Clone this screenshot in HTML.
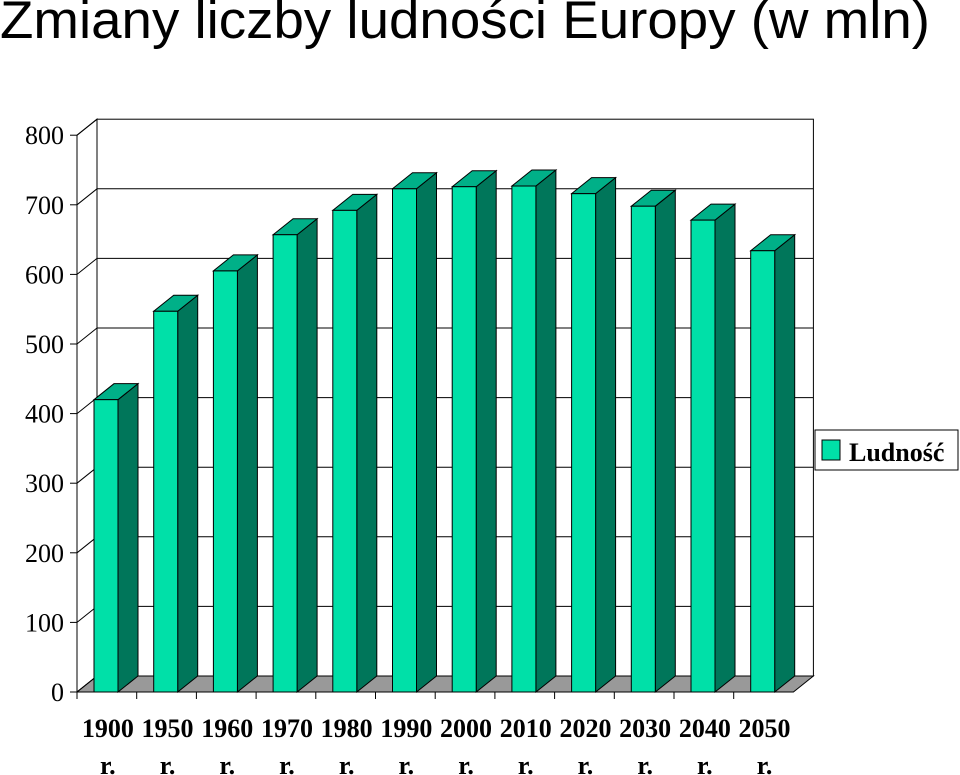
<!DOCTYPE html>
<html><head><meta charset="utf-8"><style>
body{margin:0;background:#fff;width:960px;height:775px;overflow:hidden}
svg{display:block}
</style></head><body>
<svg width="960" height="775">
<text x="0" y="38" font-family="Liberation Sans, sans-serif" font-size="53" textLength="930" lengthAdjust="spacingAndGlyphs">Zmiany liczby ludności Europy (w mln)</text>
<g id="chart"></g>
<rect x="815" y="430" width="143" height="40" fill="#fff" stroke="#000"/>
<rect x="822" y="440" width="18" height="20" fill="#00E0A8" stroke="#000"/>
<text x="849" y="461" font-family="Liberation Serif, serif" font-weight="bold" font-size="26">Ludność</text>
</svg>
<script>
const categories=["1900","1950","1960","1970","1980","1990","2000","2010","2020","2030","2040","2050"];
const values=[420,547,605,657,692,723,726,727,716,698,678,634];
const ticks=[0,100,200,300,400,500,600,700,800];
const X0=77,Y0=692,PX=0.696,CW=59.7,DX=20,DY=-16,BW=24,BOFF=17;
const y=v=>Y0-v*PX;
const g=document.getElementById('chart');
const NS='http://www.w3.org/2000/svg';
function mk(t,a){const e=document.createElementNS(NS,t);for(const k in a)e.setAttribute(k,a[k]);g.appendChild(e);return e;}
const xEnd=X0+categories.length*CW;
let e=mk('polygon',{points:`${X0},${Y0} ${X0+DX},${Y0+DY} ${X0+DX},${y(800)+DY} ${X0},${y(800)}`,fill:'#fff',stroke:'#000'});

e=mk('rect',{x:X0+DX,y:y(800)+DY,width:xEnd-X0,height:800*PX,fill:'#fff',stroke:'#000'});

e=mk('polygon',{points:`${X0},${Y0} ${xEnd},${Y0} ${xEnd+DX},${Y0+DY} ${X0+DX},${Y0+DY}`,fill:'#999',stroke:'#000'});

ticks.forEach(t=>{
 if(t>0&&t<800){const l=mk('line',{x1:X0+DX,x2:xEnd+DX,y1:y(t)+DY,y2:y(t)+DY,stroke:'#000'});
 }
 const d=mk('line',{x1:X0,y1:y(t),x2:X0+DX,y2:y(t)+DY,stroke:'#000'});
 
 const tk=mk('line',{x1:X0-7,x2:X0,y1:y(t),y2:y(t),stroke:'#000'});
 
 const tx=mk('text',{x:X0-13,y:y(t)+9,'text-anchor':'end','font-family':'Liberation Serif, serif','font-size':'26'});
 tx.textContent=t;
 
});
const ax=mk('line',{x1:X0,y1:Y0,x2:X0,y2:y(800),stroke:'#000'});

const xa=mk('line',{x1:X0,y1:Y0,x2:xEnd,y2:Y0,stroke:'#000'});

categories.forEach((c,i)=>{
 const tx0=X0+i*CW;
 const tk=mk('line',{x1:tx0,x2:tx0,y1:Y0,y2:Y0+7,stroke:'#000'});
 
 const bx=tx0+BOFF,top=y(values[i]);
 const side=mk('polygon',{points:`${bx+BW},${Y0} ${bx+BW+DX},${Y0+DY} ${bx+BW+DX},${top+DY} ${bx+BW},${top}`,fill:'#00765A',stroke:'#000'});
 
 const tp=mk('polygon',{points:`${bx},${top} ${bx+BW},${top} ${bx+BW+DX},${top+DY} ${bx+DX},${top+DY}`,fill:'#00B088',stroke:'#000'});
 
 const fr=mk('rect',{x:bx,y:top,width:BW,height:Y0-top,fill:'#00E0A8',stroke:'#000'});
 
 const cx=tx0+CW/2+1;
 const l1=mk('text',{x:cx,y:737,'text-anchor':'middle','font-family':'Liberation Serif, serif','font-weight':'bold','font-size':'26'});
 l1.textContent=c;
 
 const l2=mk('text',{x:cx,y:774,'text-anchor':'middle','font-family':'Liberation Serif, serif','font-weight':'bold','font-size':'26'});
 l2.textContent='r.';
 
});
</script>
</body></html>
